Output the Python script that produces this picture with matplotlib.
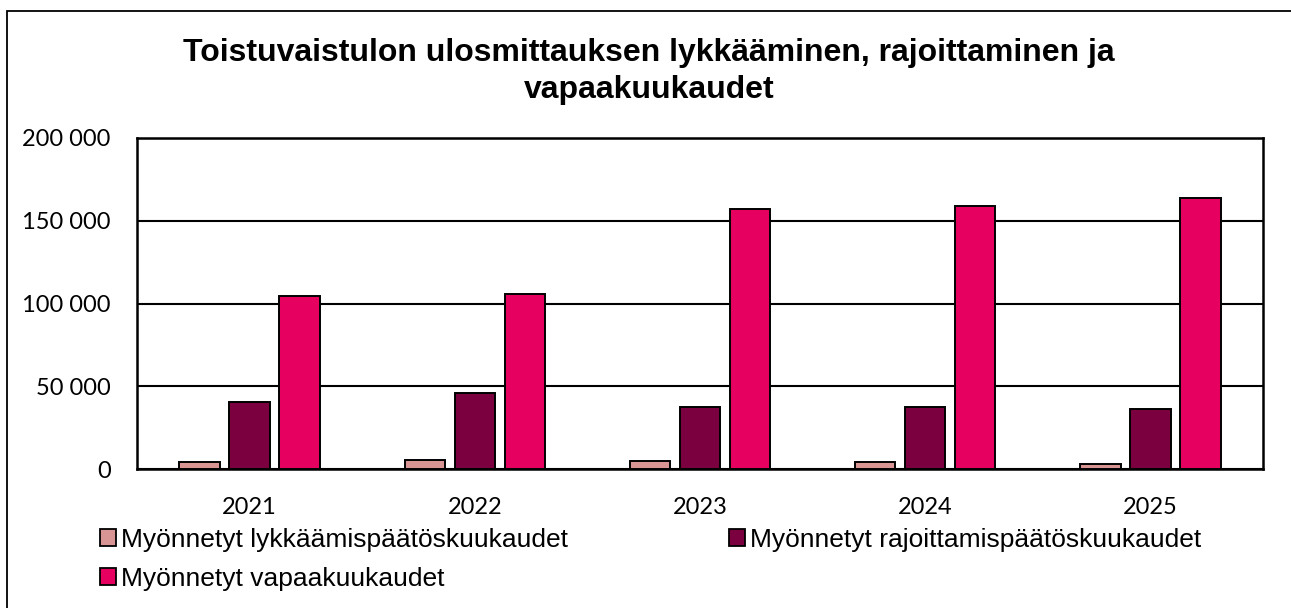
import matplotlib
matplotlib.use("Agg")
import matplotlib.pyplot as plt
from matplotlib.patches import Rectangle, Patch
import numpy as np

years = ["2021", "2022", "2023", "2024", "2025"]
lykkays = [4200, 5200, 4600, 4000, 3000]
rajoitus = [40700, 46100, 37300, 37300, 36400]
vapaa = [104700, 105700, 157200, 158700, 163700]
series_names = ["Myönnetyt lykkäämispäätöskuukaudet",
                "Myönnetyt rajoittamispäätöskuukaudet",
                "Myönnetyt vapaakuukaudet"]
colors = ["#D99594", "#7B003F", "#E6005F"]
yticks = [0, 50000, 100000, 150000, 200000]
ytick_labels = ["0", "50 000", "100 000", "150 000", "200 000"]
title_lines = ["Toistuvaistulon ulosmittauksen lykkääminen, rajoittaminen ja",
               "vapaakuukaudet"]

W, H = 1291, 608
fig = plt.figure(figsize=(W / 100, H / 100), dpi=100)
ax = fig.add_axes([137 / W, 1 - 469 / H, (1263 - 137) / W, (469 - 138) / H])

x = np.arange(len(years))
bw = 0.18
step = 0.222
for i, (vals, c) in enumerate(zip([lykkays, rajoitus, vapaa], colors)):
    ax.bar(x + (i - 1) * step, vals, width=bw, color=c, edgecolor="black",
           linewidth=1.4, zorder=3)

ax.set_xlim(-0.5, len(years) - 0.5)
ax.set_ylim(0, 200000)
ax.set_yticks(yticks)
ax.set_yticklabels(ytick_labels, fontfamily="Lato", fontsize=17)
ax.set_xticks(x)
ax.set_xticklabels(years, fontfamily="Lato", fontsize=17)
ax.tick_params(axis="both", length=0)
ax.tick_params(axis="y", pad=19)
ax.tick_params(axis="x", pad=20)
ax.yaxis.grid(True, color="black", linewidth=1.5, zorder=0)
ax.set_axisbelow(True)
for s in ax.spines.values():
    s.set_linewidth(1.8)
    s.set_color("black")

for line, yb in zip(title_lines, [61, 98]):
    fig.text(649 / W, 1 - yb / H, line, ha="center", va="baseline",
             fontfamily="Liberation Sans", fontweight="bold", fontsize=23)

handles = [Patch(facecolor=c, edgecolor="black", linewidth=1.3) for c in colors]
order = [0, 2, 1]
leg = fig.legend([handles[i] for i in order], [series_names[i] for i in order],
                 ncol=2, loc="upper left", bbox_to_anchor=(100 / W, 1 - 528 / H),
                 frameon=False, prop={"family": "Liberation Sans", "size": 19},
                 handlelength=0.6, handleheight=0.6, handletextpad=0.19,
                 columnspacing=6.1, labelspacing=0.57, borderpad=0, borderaxespad=0)

fig.patches.append(Rectangle((7 / W, -0.1), 1.2, 1 - 11 / H + 0.1,
                             transform=fig.transFigure, fill=False,
                             edgecolor="black", linewidth=1.3))

fig.savefig("out.png", dpi=100)
